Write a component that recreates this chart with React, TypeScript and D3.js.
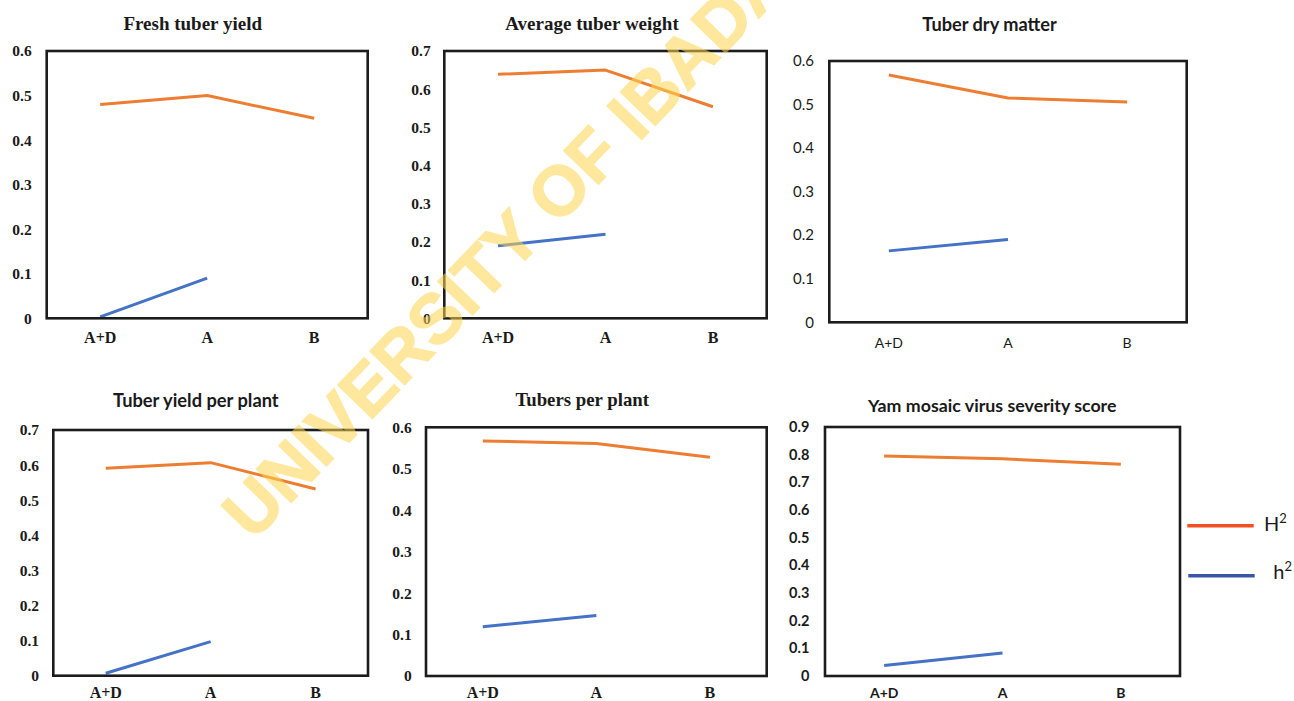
import React from "react";
import * as d3 from "d3";

// ---------- data ----------
const categories = ["A+D", "A", "B"];
const narrowCategories = ["A+D", "A"];

const panelTitles = [
  "Fresh tuber yield",
  "Average tuber weight",
  "Tuber dry matter",
  "Tuber yield per plant",
  "Tubers per plant",
  "Yam mosaic virus severity score",
];

const yMaxValues = [0.6, 0.7, 0.6, 0.7, 0.6, 0.9];

// Broad-sense heritability H² (A+D, A, B)
const broadSense = [
  [0.48, 0.5, 0.449],
  [0.639, 0.65, 0.554],
  [0.568, 0.515, 0.506],
  [0.591, 0.607, 0.532],
  [0.567, 0.561, 0.528],
  [0.795, 0.785, 0.765],
];

// Narrow-sense heritability h² (A+D, A)
const narrowSense = [
  [0.003, 0.09],
  [0.19, 0.22],
  [0.164, 0.19],
  [0.007, 0.097],
  [0.119, 0.146],
  [0.038, 0.083],
];

const legendLabels = ["H", "h"];
const watermarkText = "UNIVERSITY OF IBADAN";

// ---------- layout / style ----------
const SERIF = "'Liberation Serif', 'Times New Roman', serif";
const SANS = "Lato, 'Open Sans', sans-serif";

type Layout = {
  x0: number; x1: number; y0: number; y1: number;
  titleX: number; titleY: number; titleFont: string; titleSize: number;
  tickX: number; tickFont: string; tickSize: number; tickWeight: string;
  xLabY: number; xFont: string; xSize: number; xWeight: string;
};

const layouts: Layout[] = [
  { x0: 46.7, x1: 367.7, y0: 51, y1: 318.3, titleX: 192.7, titleY: 29.5, titleFont: SERIF, titleSize: 19,
    tickX: 31.7, tickFont: SERIF, tickSize: 15.5, tickWeight: "bold", xLabY: 343, xFont: SERIF, xSize: 16, xWeight: "bold" },
  { x0: 444.3, x1: 766.7, y0: 51, y1: 318.3, titleX: 592, titleY: 29.5, titleFont: SERIF, titleSize: 19,
    tickX: 430.7, tickFont: SERIF, tickSize: 15.5, tickWeight: "bold", xLabY: 343, xFont: SERIF, xSize: 16, xWeight: "bold" },
  { x0: 829.3, x1: 1186.7, y0: 61, y1: 322.3, titleX: 989.5, titleY: 31, titleFont: SANS, titleSize: 18.2,
    tickX: 814, tickFont: SANS, tickSize: 15, tickWeight: "normal", xLabY: 348.3, xFont: SANS, xSize: 14, xWeight: "normal" },
  { x0: 53.3, x1: 368, y0: 430, y1: 675.7, titleX: 195.8, titleY: 406.7, titleFont: SANS, titleSize: 18.3,
    tickX: 39, tickFont: SERIF, tickSize: 15.5, tickWeight: "bold", xLabY: 698, xFont: SERIF, xSize: 16, xWeight: "bold" },
  { x0: 426, x1: 766.7, y0: 427.3, y1: 676, titleX: 582.2, titleY: 406, titleFont: SERIF, titleSize: 18.8,
    tickX: 411.7, tickFont: SERIF, tickSize: 15.5, tickWeight: "bold", xLabY: 698, xFont: SERIF, xSize: 16, xWeight: "bold" },
  { x0: 825, x1: 1180, y0: 427, y1: 676, titleX: 992.3, titleY: 412.3, titleFont: SANS, titleSize: 17.8,
    tickX: 809.3, tickFont: SANS, tickSize: 14.5, tickWeight: "bold", xLabY: 698, xFont: SANS, xSize: 14, xWeight: "bold" },
];

const COLOR_H = "#ED7D31";
const COLOR_N = "#4472C4";
const LEGEND_H = "#F25022";
const LEGEND_N = "#3A57A7";

const fmt = (d: number) => (d === 0 ? "0" : d3.format(".1f")(d));

function Panel({ i }: { i: number }) {
  const L = layouts[i];
  const yMax = yMaxValues[i];
  const x = d3.scalePoint<string>().domain(categories).range([L.x0, L.x1]).padding(0.5);
  const y = d3.scaleLinear().domain([0, yMax]).range([L.y1, L.y0]);
  const ticks = y.ticks(Math.round(yMax / 0.1));
  const line = d3
    .line<[string, number]>()
    .x((d) => x(d[0]) as number)
    .y((d) => y(d[1]));
  const hData = categories.map((c, k) => [c, broadSense[i][k]] as [string, number]);
  const nData = narrowCategories.map((c, k) => [c, narrowSense[i][k]] as [string, number]);
  return (
    <g>
      <text
        x={L.titleX}
        y={L.titleY}
        textAnchor="middle"
        fontFamily={L.titleFont}
        fontSize={L.titleSize}
        fontWeight="bold"
        fill="#1a1a1a"
      >
        {panelTitles[i]}
      </text>
      {ticks.map((t) => (
        <text
          key={t}
          x={L.tickX}
          y={y(t)}
          dy="0.35em"
          textAnchor="end"
          fontFamily={L.tickFont}
          fontSize={L.tickSize}
          fontWeight={L.tickWeight}
          fill="#1a1a1a"
        >
          {fmt(t)}
        </text>
      ))}
      {categories.map((c) => (
        <text
          key={c}
          x={x(c)}
          y={L.xLabY}
          textAnchor="middle"
          fontFamily={L.xFont}
          fontSize={L.xSize}
          fontWeight={L.xWeight}
          fill="#1a1a1a"
        >
          {c}
        </text>
      ))}
      <path d={line(hData) || ""} fill="none" stroke={COLOR_H} strokeWidth={3} strokeLinejoin="round" />
      <path d={line(nData) || ""} fill="none" stroke={COLOR_N} strokeWidth={3} strokeLinejoin="round" />
      <rect
        x={L.x0}
        y={L.y0}
        width={L.x1 - L.x0}
        height={L.y1 - L.y0}
        fill="none"
        stroke="#1c1c1c"
        strokeWidth={2.6}
      />
    </g>
  );
}

export default function App() {
  return (
    <svg
      width={1294}
      height={701}
      style={{ position: "absolute", left: 0, top: 0, background: "#fff" }}
    >
      <rect x={0} y={0} width={1294} height={701} fill="#fff" />
      {panelTitles.map((_, i) => (
        <Panel key={i} i={i} />
      ))}
      {/* legend */}
      <g>
        <line x1={1187.3} x2={1253.7} y1={525.7} y2={525.7} stroke={LEGEND_H} strokeWidth={3.4} />
        <text x={1264} y={530.7} fontFamily={SANS} fontSize={20} fill="#1a1a1a">
          {legendLabels[0]}
          <tspan fontSize={13} dy={-8}>2</tspan>
        </text>
        <line x1={1188.3} x2={1254.7} y1={575.7} y2={575.7} stroke={LEGEND_N} strokeWidth={3.4} />
        <text x={1273.3} y={579} fontFamily={SANS} fontSize={20} fill="#1a1a1a">
          {legendLabels[1]}
          <tspan fontSize={13} dy={-8}>2</tspan>
        </text>
      </g>
      {/* watermark */}
      <g opacity={0.55}>
        <text
          x={253}
          y={542}
          transform="rotate(-46 253 542)"
          textAnchor="start"
          fontFamily="'Liberation Sans', Arial, sans-serif"
          fontWeight="bold"
          fontSize={70}
          fill="#FFD54F"
          stroke="#FFD54F"
          strokeWidth={1.5}
        >
          {watermarkText}
        </text>
      </g>
    </svg>
  );
}
